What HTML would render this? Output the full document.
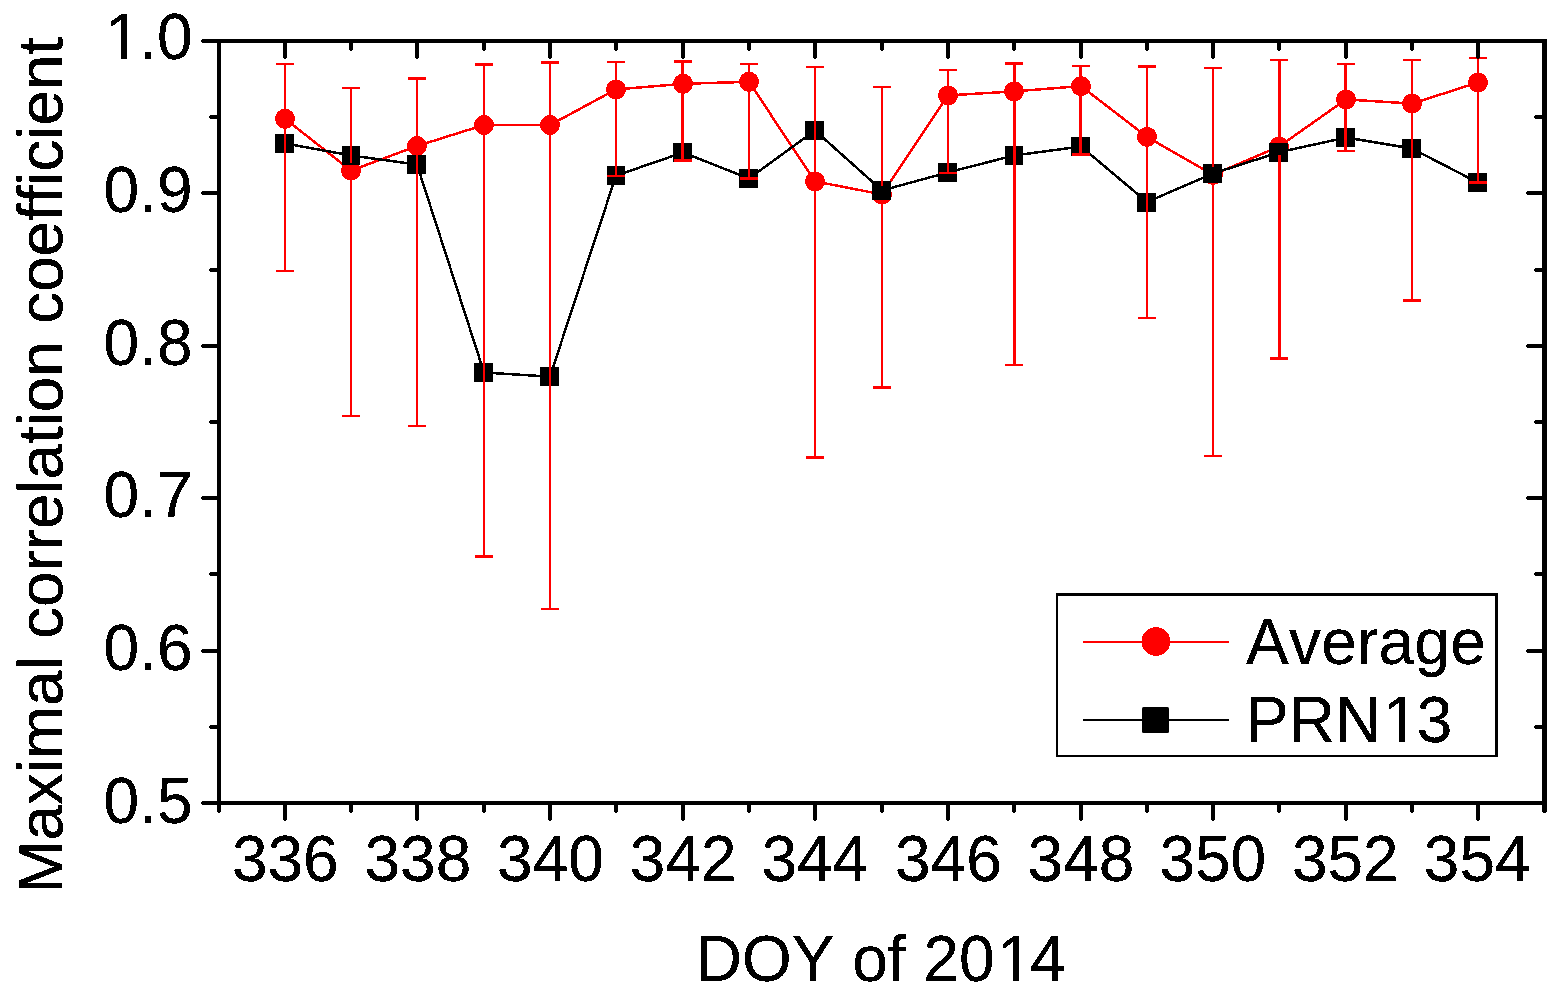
<!DOCTYPE html>
<html lang="en"><head><meta charset="utf-8"><title>Maximal correlation coefficient vs DOY of 2014</title>
<style>
html,body{margin:0;padding:0;background:#fff;}
body{width:1563px;height:993px;overflow:hidden;}
svg{display:block;}
text{font-family:"Liberation Sans",sans-serif;font-size:64px;fill:#000;font-kerning:none;font-variant-ligatures:none;}
</style></head><body>
<svg width="1563" height="993" viewBox="0 0 1563 993">
<defs><filter id="bin" x="-5%" y="-5%" width="110%" height="110%" color-interpolation-filters="sRGB"><feComponentTransfer><feFuncA type="discrete" tableValues="0 1 1"/></feComponentTransfer></filter></defs>
<rect x="0" y="0" width="1563" height="993" fill="#ffffff"/>
<g id="avg" shape-rendering="crispEdges">
<polyline points="285,118.8 351,170.6 417,146.0 484,125.0 550,125.0 616,89.4 683,83.8 749,81.8 815,181.4 882,194.4 948,95.4 1014,91.4 1081,86.1 1147,136.9 1213,174.8 1279,146.6 1346,99.4 1412,103.6 1478,82.5" fill="none" stroke="#ff0000" stroke-width="2.5"/>
<circle cx="285" cy="118.8" r="10" fill="#ff0000"/>
<circle cx="351" cy="170.6" r="10" fill="#ff0000"/>
<circle cx="417" cy="146.0" r="10" fill="#ff0000"/>
<circle cx="484" cy="125.0" r="10" fill="#ff0000"/>
<circle cx="550" cy="125.0" r="10" fill="#ff0000"/>
<circle cx="616" cy="89.4" r="10" fill="#ff0000"/>
<circle cx="683" cy="83.8" r="10" fill="#ff0000"/>
<circle cx="749" cy="81.8" r="10" fill="#ff0000"/>
<circle cx="815" cy="181.4" r="10" fill="#ff0000"/>
<circle cx="882" cy="194.4" r="10" fill="#ff0000"/>
<circle cx="948" cy="95.4" r="10" fill="#ff0000"/>
<circle cx="1014" cy="91.4" r="10" fill="#ff0000"/>
<circle cx="1081" cy="86.1" r="10" fill="#ff0000"/>
<circle cx="1147" cy="136.9" r="10" fill="#ff0000"/>
<circle cx="1213" cy="174.8" r="10" fill="#ff0000"/>
<circle cx="1279" cy="146.6" r="10" fill="#ff0000"/>
<circle cx="1346" cy="99.4" r="10" fill="#ff0000"/>
<circle cx="1412" cy="103.6" r="10" fill="#ff0000"/>
<circle cx="1478" cy="82.5" r="10" fill="#ff0000"/>
</g>
<g id="prn13" shape-rendering="crispEdges">
<polyline points="285,143.4 351,155.5 417,164.5 484,372.5 550,376.6 616,175.6 683,152.5 749,178.5 815,130.5 882,190.4 948,172.4 1014,155.5 1081,146.5 1147,202.0 1213,173.5 1279,152.3 1346,137.5 1412,148.5 1478,182.6" fill="none" stroke="#000000" stroke-width="2.5"/>
<rect x="275" y="134" width="19" height="19" fill="#000000" shape-rendering="crispEdges"/>
<rect x="342" y="146" width="18" height="19" fill="#000000" shape-rendering="crispEdges"/>
<rect x="407" y="155" width="19" height="19" fill="#000000" shape-rendering="crispEdges"/>
<rect x="474" y="363" width="19" height="19" fill="#000000" shape-rendering="crispEdges"/>
<rect x="540" y="367" width="19" height="19" fill="#000000" shape-rendering="crispEdges"/>
<rect x="607" y="166" width="18" height="19" fill="#000000" shape-rendering="crispEdges"/>
<rect x="673" y="143" width="19" height="19" fill="#000000" shape-rendering="crispEdges"/>
<rect x="739" y="169" width="19" height="19" fill="#000000" shape-rendering="crispEdges"/>
<rect x="805" y="121" width="19" height="19" fill="#000000" shape-rendering="crispEdges"/>
<rect x="872" y="181" width="19" height="19" fill="#000000" shape-rendering="crispEdges"/>
<rect x="938" y="163" width="19" height="19" fill="#000000" shape-rendering="crispEdges"/>
<rect x="1005" y="146" width="18" height="19" fill="#000000" shape-rendering="crispEdges"/>
<rect x="1071" y="137" width="19" height="19" fill="#000000" shape-rendering="crispEdges"/>
<rect x="1137" y="193" width="19" height="19" fill="#000000" shape-rendering="crispEdges"/>
<rect x="1203" y="164" width="19" height="19" fill="#000000" shape-rendering="crispEdges"/>
<rect x="1269" y="143" width="19" height="19" fill="#000000" shape-rendering="crispEdges"/>
<rect x="1336" y="128" width="19" height="19" fill="#000000" shape-rendering="crispEdges"/>
<rect x="1402" y="139" width="19" height="19" fill="#000000" shape-rendering="crispEdges"/>
<rect x="1468" y="173" width="19" height="19" fill="#000000" shape-rendering="crispEdges"/>
</g>
<g id="err" fill="#ff0000" shape-rendering="crispEdges">
<rect x="276" y="63" width="18" height="2"/>
<rect x="276" y="270" width="18" height="2"/>
<rect x="284" y="63" width="2" height="48"/>
<rect x="284" y="127" width="2" height="145"/>
<rect x="342" y="87" width="18" height="2"/>
<rect x="342" y="415" width="18" height="2"/>
<rect x="350" y="87" width="2" height="76"/>
<rect x="350" y="179" width="2" height="238"/>
<rect x="408" y="77" width="18" height="3"/>
<rect x="408" y="425" width="18" height="2"/>
<rect x="416" y="77" width="2" height="61"/>
<rect x="416" y="154" width="2" height="273"/>
<rect x="475" y="63" width="18" height="3"/>
<rect x="475" y="555" width="18" height="3"/>
<rect x="483" y="63" width="2" height="54"/>
<rect x="483" y="133" width="2" height="425"/>
<rect x="541" y="61" width="18" height="3"/>
<rect x="541" y="608" width="18" height="2"/>
<rect x="549" y="61" width="2" height="56"/>
<rect x="549" y="133" width="2" height="477"/>
<rect x="607" y="61" width="18" height="2"/>
<rect x="607" y="175" width="18" height="2"/>
<rect x="615" y="61" width="2" height="20"/>
<rect x="615" y="97" width="2" height="80"/>
<rect x="674" y="60" width="18" height="3"/>
<rect x="674" y="159" width="18" height="3"/>
<rect x="681" y="60" width="3" height="16"/>
<rect x="681" y="92" width="3" height="70"/>
<rect x="740" y="63" width="18" height="2"/>
<rect x="740" y="177" width="18" height="3"/>
<rect x="748" y="63" width="2" height="11"/>
<rect x="748" y="90" width="2" height="90"/>
<rect x="806" y="66" width="18" height="2"/>
<rect x="806" y="456" width="18" height="3"/>
<rect x="814" y="66" width="2" height="107"/>
<rect x="814" y="189" width="2" height="270"/>
<rect x="873" y="86" width="18" height="2"/>
<rect x="873" y="386" width="18" height="3"/>
<rect x="881" y="86" width="2" height="100"/>
<rect x="881" y="202" width="2" height="187"/>
<rect x="939" y="69" width="18" height="2"/>
<rect x="939" y="172" width="18" height="2"/>
<rect x="947" y="69" width="2" height="18"/>
<rect x="947" y="103" width="2" height="71"/>
<rect x="1005" y="62" width="18" height="3"/>
<rect x="1005" y="364" width="18" height="2"/>
<rect x="1013" y="62" width="3" height="21"/>
<rect x="1013" y="99" width="3" height="267"/>
<rect x="1072" y="65" width="18" height="2"/>
<rect x="1072" y="153" width="18" height="3"/>
<rect x="1079" y="65" width="3" height="13"/>
<rect x="1079" y="94" width="3" height="62"/>
<rect x="1138" y="65" width="18" height="3"/>
<rect x="1138" y="317" width="18" height="2"/>
<rect x="1146" y="65" width="2" height="64"/>
<rect x="1146" y="145" width="2" height="174"/>
<rect x="1204" y="67" width="18" height="2"/>
<rect x="1204" y="455" width="18" height="2"/>
<rect x="1212" y="67" width="2" height="100"/>
<rect x="1212" y="183" width="2" height="274"/>
<rect x="1270" y="59" width="18" height="2"/>
<rect x="1270" y="357" width="18" height="3"/>
<rect x="1278" y="59" width="3" height="80"/>
<rect x="1278" y="155" width="3" height="205"/>
<rect x="1337" y="63" width="18" height="2"/>
<rect x="1337" y="150" width="18" height="2"/>
<rect x="1344" y="63" width="3" height="28"/>
<rect x="1344" y="107" width="3" height="45"/>
<rect x="1403" y="59" width="18" height="2"/>
<rect x="1403" y="299" width="18" height="3"/>
<rect x="1411" y="59" width="2" height="37"/>
<rect x="1411" y="112" width="2" height="190"/>
<rect x="1469" y="57" width="18" height="2"/>
<rect x="1469" y="181" width="18" height="3"/>
<rect x="1477" y="57" width="2" height="18"/>
<rect x="1477" y="91" width="2" height="93"/>
</g>
<g id="axes" fill="#000000" shape-rendering="crispEdges">
<rect x="202" y="39" width="1345" height="4"/>
<rect x="201" y="40" width="1" height="2"/>
<rect x="202" y="801" width="1345" height="4"/>
<rect x="201" y="802" width="1" height="2"/>
<rect x="217" y="39" width="4" height="773"/>
<rect x="218" y="812" width="2" height="1"/>
<rect x="1542" y="39" width="5" height="773"/>
<rect x="1543" y="812" width="3" height="1"/>
<rect x="283" y="805" width="4" height="15"/>
<rect x="284" y="820" width="2" height="1"/>
<rect x="283" y="43" width="4" height="15"/>
<rect x="284" y="58" width="2" height="1"/>
<rect x="349" y="805" width="4" height="7"/>
<rect x="350" y="812" width="2" height="1"/>
<rect x="349" y="43" width="4" height="7"/>
<rect x="350" y="50" width="2" height="1"/>
<rect x="415" y="805" width="4" height="15"/>
<rect x="416" y="820" width="2" height="1"/>
<rect x="415" y="43" width="4" height="15"/>
<rect x="416" y="58" width="2" height="1"/>
<rect x="482" y="805" width="4" height="7"/>
<rect x="483" y="812" width="2" height="1"/>
<rect x="482" y="43" width="4" height="7"/>
<rect x="483" y="50" width="2" height="1"/>
<rect x="548" y="805" width="4" height="15"/>
<rect x="549" y="820" width="2" height="1"/>
<rect x="548" y="43" width="4" height="15"/>
<rect x="549" y="58" width="2" height="1"/>
<rect x="614" y="805" width="4" height="7"/>
<rect x="615" y="812" width="2" height="1"/>
<rect x="614" y="43" width="4" height="7"/>
<rect x="615" y="50" width="2" height="1"/>
<rect x="681" y="805" width="4" height="15"/>
<rect x="682" y="820" width="2" height="1"/>
<rect x="681" y="43" width="4" height="15"/>
<rect x="682" y="58" width="2" height="1"/>
<rect x="747" y="805" width="4" height="7"/>
<rect x="748" y="812" width="2" height="1"/>
<rect x="747" y="43" width="4" height="7"/>
<rect x="748" y="50" width="2" height="1"/>
<rect x="813" y="805" width="4" height="15"/>
<rect x="814" y="820" width="2" height="1"/>
<rect x="813" y="43" width="4" height="15"/>
<rect x="814" y="58" width="2" height="1"/>
<rect x="880" y="805" width="4" height="7"/>
<rect x="881" y="812" width="2" height="1"/>
<rect x="880" y="43" width="4" height="7"/>
<rect x="881" y="50" width="2" height="1"/>
<rect x="946" y="805" width="4" height="15"/>
<rect x="947" y="820" width="2" height="1"/>
<rect x="946" y="43" width="4" height="15"/>
<rect x="947" y="58" width="2" height="1"/>
<rect x="1012" y="805" width="4" height="7"/>
<rect x="1013" y="812" width="2" height="1"/>
<rect x="1012" y="43" width="4" height="7"/>
<rect x="1013" y="50" width="2" height="1"/>
<rect x="1079" y="805" width="4" height="15"/>
<rect x="1080" y="820" width="2" height="1"/>
<rect x="1079" y="43" width="4" height="15"/>
<rect x="1080" y="58" width="2" height="1"/>
<rect x="1145" y="805" width="4" height="7"/>
<rect x="1146" y="812" width="2" height="1"/>
<rect x="1145" y="43" width="4" height="7"/>
<rect x="1146" y="50" width="2" height="1"/>
<rect x="1211" y="805" width="4" height="15"/>
<rect x="1212" y="820" width="2" height="1"/>
<rect x="1211" y="43" width="4" height="15"/>
<rect x="1212" y="58" width="2" height="1"/>
<rect x="1277" y="805" width="4" height="7"/>
<rect x="1278" y="812" width="2" height="1"/>
<rect x="1277" y="43" width="4" height="7"/>
<rect x="1278" y="50" width="2" height="1"/>
<rect x="1344" y="805" width="4" height="15"/>
<rect x="1345" y="820" width="2" height="1"/>
<rect x="1344" y="43" width="4" height="15"/>
<rect x="1345" y="58" width="2" height="1"/>
<rect x="1410" y="805" width="4" height="7"/>
<rect x="1411" y="812" width="2" height="1"/>
<rect x="1410" y="43" width="4" height="7"/>
<rect x="1411" y="50" width="2" height="1"/>
<rect x="1476" y="805" width="4" height="15"/>
<rect x="1477" y="820" width="2" height="1"/>
<rect x="1476" y="43" width="4" height="15"/>
<rect x="1477" y="58" width="2" height="1"/>
<rect x="210" y="115" width="7" height="4"/>
<rect x="209" y="116" width="1" height="2"/>
<rect x="1535" y="115" width="7" height="4"/>
<rect x="1534" y="116" width="1" height="2"/>
<rect x="202" y="191" width="15" height="4"/>
<rect x="201" y="192" width="1" height="2"/>
<rect x="1527" y="191" width="15" height="4"/>
<rect x="1526" y="192" width="1" height="2"/>
<rect x="210" y="268" width="7" height="4"/>
<rect x="209" y="269" width="1" height="2"/>
<rect x="1535" y="268" width="7" height="4"/>
<rect x="1534" y="269" width="1" height="2"/>
<rect x="202" y="344" width="15" height="4"/>
<rect x="201" y="345" width="1" height="2"/>
<rect x="1527" y="344" width="15" height="4"/>
<rect x="1526" y="345" width="1" height="2"/>
<rect x="210" y="420" width="7" height="4"/>
<rect x="209" y="421" width="1" height="2"/>
<rect x="1535" y="420" width="7" height="4"/>
<rect x="1534" y="421" width="1" height="2"/>
<rect x="202" y="496" width="15" height="4"/>
<rect x="201" y="497" width="1" height="2"/>
<rect x="1527" y="496" width="15" height="4"/>
<rect x="1526" y="497" width="1" height="2"/>
<rect x="210" y="572" width="7" height="4"/>
<rect x="209" y="573" width="1" height="2"/>
<rect x="1535" y="572" width="7" height="4"/>
<rect x="1534" y="573" width="1" height="2"/>
<rect x="202" y="649" width="15" height="4"/>
<rect x="201" y="650" width="1" height="2"/>
<rect x="1527" y="649" width="15" height="4"/>
<rect x="1526" y="650" width="1" height="2"/>
<rect x="210" y="725" width="7" height="4"/>
<rect x="209" y="726" width="1" height="2"/>
<rect x="1535" y="725" width="7" height="4"/>
<rect x="1534" y="726" width="1" height="2"/>
</g>
<g id="labels" filter="url(#bin)">
<g id="ylabels" text-anchor="end">
<text x="190.8" y="59.3"><tspan dx="1.7">1</tspan><tspan dx="-1.7">.0</tspan></text>
<text x="192.5" y="212.0">0.9</text>
<text x="192.5" y="364.7">0.8</text>
<text x="192.5" y="517.4">0.7</text>
<text x="192.5" y="670.1">0.6</text>
<text x="192.5" y="822.8">0.5</text>
</g>
<g id="xlabels" text-anchor="middle">
<text x="285.3" y="880.5">336</text>
<text x="417.9" y="880.5">338</text>
<text x="550.5" y="880.5">340</text>
<text x="683.2" y="880.5">342</text>
<text x="814.8" y="880.5">344</text>
<text x="948.4" y="880.5">346</text>
<text x="1081.0" y="880.5">348</text>
<text x="1212.8" y="880.5">350</text>
<text x="1345.3" y="880.5">352</text>
<text x="1477.2" y="880.5">354</text>
</g>
<text x="880.7" y="981" text-anchor="middle">DOY of 20<tspan dx="3">1</tspan><tspan dx="-3">4</tspan></text>
<text transform="translate(62.3,465.3) rotate(-90)" text-anchor="middle" style="font-size:63.7px">Maximal correlation coefficient</text>
</g>
<g id="legend">
<rect x="1056" y="593" width="442" height="164" fill="#000000" shape-rendering="crispEdges"/>
<rect x="1058" y="596" width="437" height="159" fill="#ffffff" shape-rendering="crispEdges"/>
<rect x="1083" y="641" width="146" height="2" fill="#ff0000" shape-rendering="crispEdges"/>
<circle cx="1156" cy="641.5" r="14.4" fill="#ff0000" shape-rendering="crispEdges"/>
<rect x="1083" y="719" width="146" height="2" fill="#000000" shape-rendering="crispEdges"/>
<rect x="1142" y="707" width="27" height="26" rx="1.5" fill="#000000"/>
<g filter="url(#bin)">
<text x="1246" y="663.7" style="letter-spacing:0.25px">Average</text>
<text x="1246" y="741.6">PRN<tspan dx="1.7">1</tspan><tspan dx="-1.7">3</tspan></text>
</g>
</g>
<g id="trim" fill="#ffffff" shape-rendering="crispEdges">
<rect x="109" y="54" width="12" height="6"/>
<rect x="127" y="54" width="12" height="6"/>
<rect x="1001" y="976" width="12" height="6"/>
<rect x="1019" y="976" width="12" height="6"/>
<rect x="1386" y="737" width="13" height="6"/>
<rect x="1405" y="737" width="11" height="6"/>
</g>
</svg>
</body></html>
